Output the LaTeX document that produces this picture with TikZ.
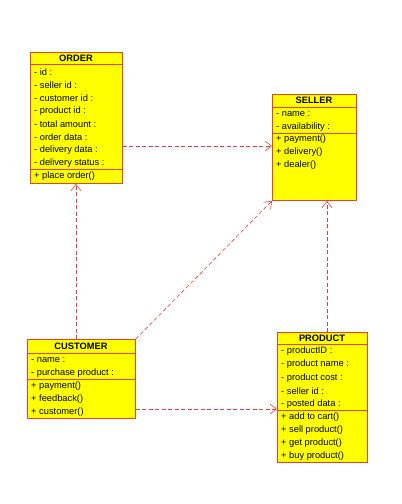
\documentclass[tikz,border=0pt]{standalone}
\usepackage{fontspec}
\setmainfont{Liberation Sans}
\usetikzlibrary{arrows.meta}
\definecolor{boxfill}{HTML}{FFFF00}
\definecolor{boxline}{HTML}{E8402A}
\definecolor{deplink}{HTML}{F03A3A}
\tikzset{
  classbox/.style={draw=boxline, fill=boxfill, line width=0.8pt, anchor=north west, inner sep=0pt},
  sepline/.style={draw=boxline, line width=0.8pt},
  title/.style={font=\fontsize{9.3}{10}\selectfont\bfseries, inner sep=0pt},
  rowtext/.style={font=\fontsize{9.3}{10}\selectfont, anchor=west, inner sep=0pt},
  dep/.style={draw=deplink, line width=0.6pt, dash pattern=on 4pt off 2.5pt,
    -{Straight Barb[length=6.5pt,width=10pt,line width=0.6pt]}}
}
\begin{document}
\begin{tikzpicture}[x=1pt,y=-1pt]
\useasboundingbox (0,0) rectangle (402,504);

% ORDER
\node[classbox, minimum width=92pt, minimum height=131pt] (order) at (30,52) {};
\draw[sepline] (30,64) -- (122,64);
\draw[sepline] (30,169) -- (122,169);
\node[title] (order-t) at (76,58) {ORDER};
\foreach \txt [count=\i] in {{- id :},{- seller id :},{- customer id :},{- product id :},
  {- total amount :},{- order data :},{- delivery data :},{- delivery status :},{+ place order()}}
  \node[rowtext] (order-\i) at (34,59+13*\i) {\txt};

% SELLER
\node[classbox, minimum width=84pt, minimum height=106pt] (seller) at (272,94) {};
\draw[sepline] (272,107) -- (356,107);
\draw[sepline] (272,133) -- (356,133);
\node[title] (seller-t) at (314,100.5) {SELLER};
\foreach \txt [count=\i] in {{- name :},{- availability :},{+ payment()},{+ delivery()},{+ dealer()}}
  \node[rowtext] (seller-\i) at (276,101+12.8*\i) {\txt};

% CUSTOMER
\node[classbox, minimum width=108pt, minimum height=79pt] (customer) at (27,339) {};
\draw[sepline] (27,353) -- (135,353);
\draw[sepline] (27,379) -- (135,379);
\node[title] (customer-t) at (81,346) {CUSTOMER};
\foreach \txt [count=\i] in {{- name :},{- purchase product :},{+ payment()},{+ feedback()},{+ customer()}}
  \node[rowtext] (customer-\i) at (31,347+13*\i) {\txt};

% PRODUCT
\node[classbox, minimum width=90pt, minimum height=130pt] (product) at (277,332) {};
\draw[sepline] (277,344) -- (367,344);
\draw[sepline] (277,410) -- (367,410);
\node[title] (product-t) at (322,338) {PRODUCT};
\foreach \txt [count=\i] in {{- productID :},{- product name :},{- product cost :},{- seller id :},{- posted data :}}
  \node[rowtext] (product-\i) at (281,338+13.2*\i) {\txt};
\foreach \txt [count=\i] in {{+ add to cart()},{+ sell product()},{+ get product()},{+ buy product()}}
  \node[rowtext] (product-m\i) at (281,404+13*\i) {\txt};

% dependencies
\draw[dep] (order.east |- 0,146) -- (seller.west |- 0,146);
\draw[dep] (customer.north -| 76,0) -- (order.south -| 76,0);
\draw[dep] (customer.north east) -- (seller.south west);
\draw[dep] (product.north -| 327,0) -- (seller.south -| 327,0);
\draw[dep] (customer.east |- 0,409) -- (product.west |- 0,409);
\end{tikzpicture}
\end{document}
